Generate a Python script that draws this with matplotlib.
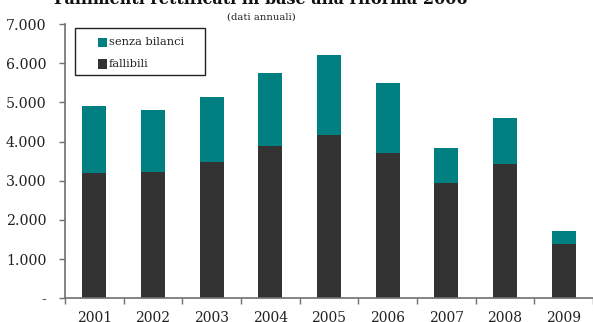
import matplotlib.pyplot as plt
from matplotlib.ticker import FuncFormatter, FixedLocator
from matplotlib.patches import Rectangle
import numpy as np

# Data
anni = ['2001', '2002', '2003', '2004', '2005', '2006', '2007', '2008', '2009']
fallibili = [3200, 3230, 3490, 3890, 4170, 3710, 2940, 3430, 1390]
senza_bilanci = [1710, 1580, 1650, 1860, 2040, 1790, 900, 1170, 330]

color_teal = '#008080'
color_dark = '#333333'
color_axis = '#707070'

plt.rcParams['font.family'] = 'DejaVu Serif'

W, H = 593, 322
fig = plt.figure(figsize=(W / 100, H / 100), dpi=100)
ax = fig.add_axes([65 / W, (H - 298.3) / H, 528 / W, 274.3 / H])

x = np.arange(len(anni))
ax.bar(x, fallibili, width=0.41, color=color_dark)
ax.bar(x, senza_bilanci, width=0.41, bottom=fallibili, color=color_teal)

ax.set_xlim(-0.5, len(anni) - 0.5)
ax.set_ylim(0, 7000)

# y axis
ax.set_yticks(np.arange(0, 7001, 1000))
ax.yaxis.set_major_formatter(FuncFormatter(
    lambda v, p: '-' if v == 0 else f'{int(v):,}'.replace(',', '.')))
ax.tick_params(axis='y', length=4.3, width=1, color=color_axis, pad=9,
               labelsize=10.2, labelcolor='#222222')

# x axis: labels at centers, ticks at boundaries
ax.set_xticks(x)
ax.set_xticklabels(anni)
ax.tick_params(axis='x', which='major', length=0, pad=9.5, labelsize=10,
               labelcolor='#222222')
ax.xaxis.set_minor_locator(FixedLocator(np.arange(-0.5, len(anni), 1.0)))
ax.tick_params(axis='x', which='minor', length=4, width=1, color=color_axis,
               direction='out')

for s in ['top', 'right']:
    ax.spines[s].set_visible(False)
for s in ['left', 'bottom']:
    ax.spines[s].set_color(color_axis)
    ax.spines[s].set_linewidth(1.2)

# legend box drawn in figure pixels
def fx(px):
    return px / W

def fy(py):
    return 1 - py / H

fig.patches.append(Rectangle((fx(75), fy(75)), fx(205) - fx(75), fy(28) - fy(75),
                             transform=fig.transFigure, fill=False,
                             edgecolor='#222222', linewidth=1.0))
for label, col, yc in [('senza bilanci', color_teal, 42), ('fallibili', color_dark, 64)]:
    fig.patches.append(Rectangle((fx(98), fy(yc + 4.5)), fx(107) - fx(98),
                                 fy(yc - 4.5) - fy(yc + 4.5),
                                 transform=fig.transFigure, facecolor=col,
                                 edgecolor='none'))
    fig.text(fx(109), fy(yc), label, ha='left', va='center', fontsize=8.2,
             color='#222222')

# titles
fig.text(261 / W, 1 - 4 / H, 'Fallimenti rettificati in base alla riforma 2006',
         ha='center', va='baseline', fontsize=11.5, weight='bold', color='#111111')
fig.text(261 / W, 1 - 17 / H, '(dati annuali)', ha='center', va='center',
         fontsize=7.3, color='#222222')

fig.savefig('out.png', dpi=100)
